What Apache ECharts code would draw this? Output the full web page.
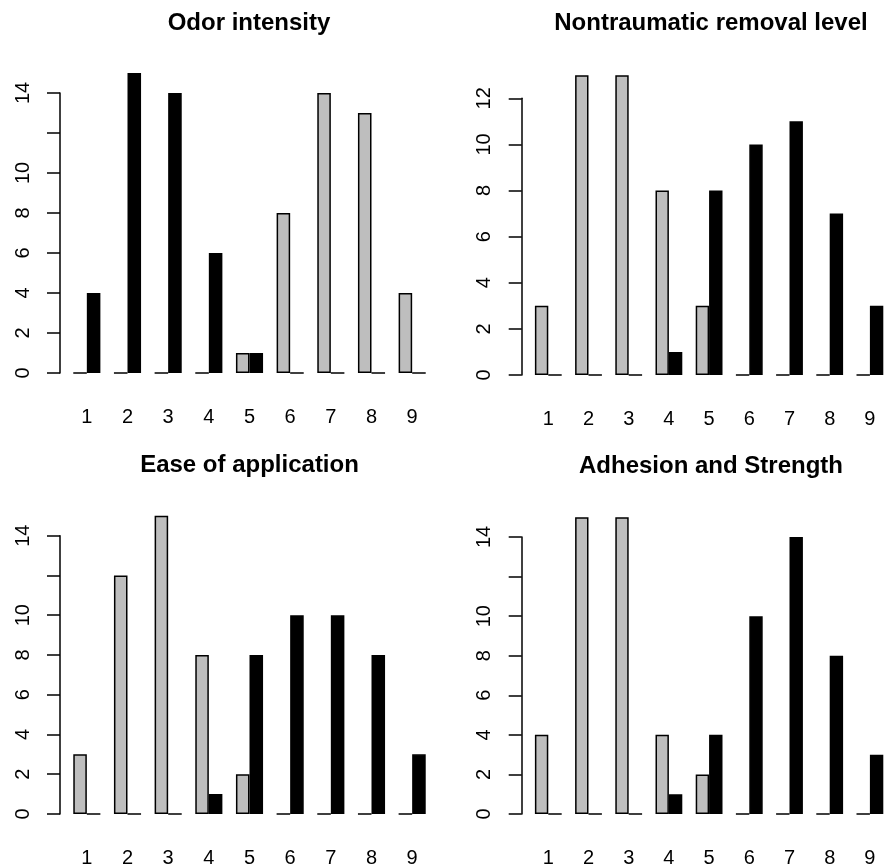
<!DOCTYPE html>
<html>
<head>
<meta charset="utf-8">
<script src="https://cdn.jsdelivr.net/npm/echarts@6/dist/echarts.min.js"></script>
<style>
html,body{margin:0;padding:0;background:#fff;}
#chart{width:890px;height:868px;}
</style>
</head>
<body>
<div id="chart"></div>
<script>
// ---- data ----
const categories = ['1','2','3','4','5','6','7','8','9'];
const titles = ['Odor intensity','Nontraumatic removal level','Ease of application','Adhesion and Strength'];

const odorGray   = [0,0,0,0,1,8,14,13,4];
const odorBlack  = [4,15,14,6,1,0,0,0,0];
const removalGray  = [3,13,13,8,3,0,0,0,0];
const removalBlack = [0,0,0,1,8,10,11,7,3];
const easeGray   = [3,12,15,8,2,0,0,0,0];
const easeBlack  = [0,0,0,1,8,10,10,8,3];
const adhesionGray  = [4,15,15,4,2,0,0,0,0];
const adhesionBlack = [0,0,0,1,4,10,14,8,3];

const yTicks1 = ['0','2','4','6','8','10','','14'];
const yTicks2 = ['0','2','4','6','8','10','12'];
const yTicks3 = ['0','2','4','6','8','10','','14'];
const yTicks4 = ['0','2','4','6','8','10','','14'];
const yMax = [14, 12, 14, 14];

// ---- layout ----
const panels = [
  {gray: odorGray, black: odorBlack, ticks: yTicks1, left: 66.5, top: 93, height: 280, titleX: 249, titleY: 11},
  {gray: removalGray, black: removalBlack, ticks: yTicks2, left: 528.2, top: 98.3, height: 276.7, titleX: 711, titleY: 11},
  {gray: easeGray, black: easeBlack, ticks: yTicks3, left: 66.5, top: 535.7, height: 280.3, titleX: 249.5, titleY: 453},
  {gray: adhesionGray, black: adhesionBlack, ticks: yTicks4, left: 528.2, top: 537, height: 280.7, titleX: 711, titleY: 454}
];

const FONT = 'Liberation Sans, Arial, Helvetica, sans-serif';
const option = {
  animation: false,
  backgroundColor: '#ffffff',
  title: [], grid: [], xAxis: [], yAxis: [], series: []
};

panels.forEach((p, i) => {
  option.title.push({
    text: titles[i], left: p.titleX, top: p.titleY, textAlign: 'center', padding: 0,
    textStyle: {fontFamily: FONT, fontSize: 24, fontWeight: 'bold', color: '#000'}
  });
  option.grid.push({left: p.left, top: p.top, width: 366, height: p.height, containLabel: false});
  option.xAxis.push({
    type: 'category', gridIndex: i, data: categories,
    axisLine: {show: false}, axisTick: {show: false},
    axisLabel: {fontFamily: FONT, fontSize: 20, color: '#000', margin: 34, interval: 0},
    splitLine: {show: false}
  });
  const ticks = p.ticks;
  option.yAxis.push({
    type: 'value', gridIndex: i, min: 0, max: yMax[i], interval: 2, offset: 6.5,
    axisLine: {show: true, lineStyle: {color: '#000', width: 1.5}},
    axisTick: {show: true, length: 13, lineStyle: {color: '#000', width: 1.5}},
    axisLabel: {
      fontFamily: FONT, fontSize: 20, color: '#000', rotate: 90, margin: 27,
      formatter: v => ticks[Math.round(v / 2)] || ''
    },
    splitLine: {show: false}
  });
  [[p.gray, '#BEBEBE'], [p.black, '#000000']].forEach(([d, c]) => {
    option.series.push({
      type: 'bar', xAxisIndex: i, yAxisIndex: i, data: d, clip: false,
      barGap: '0%', barCategoryGap: '33.33%',
      itemStyle: {color: c, borderColor: '#000', borderWidth: 1.5},
      emphasis: {disabled: true}
    });
  });
});

const chart = echarts.init(document.getElementById('chart'), null, {renderer: 'canvas'});
chart.setOption(option);
</script>
</body>
</html>
